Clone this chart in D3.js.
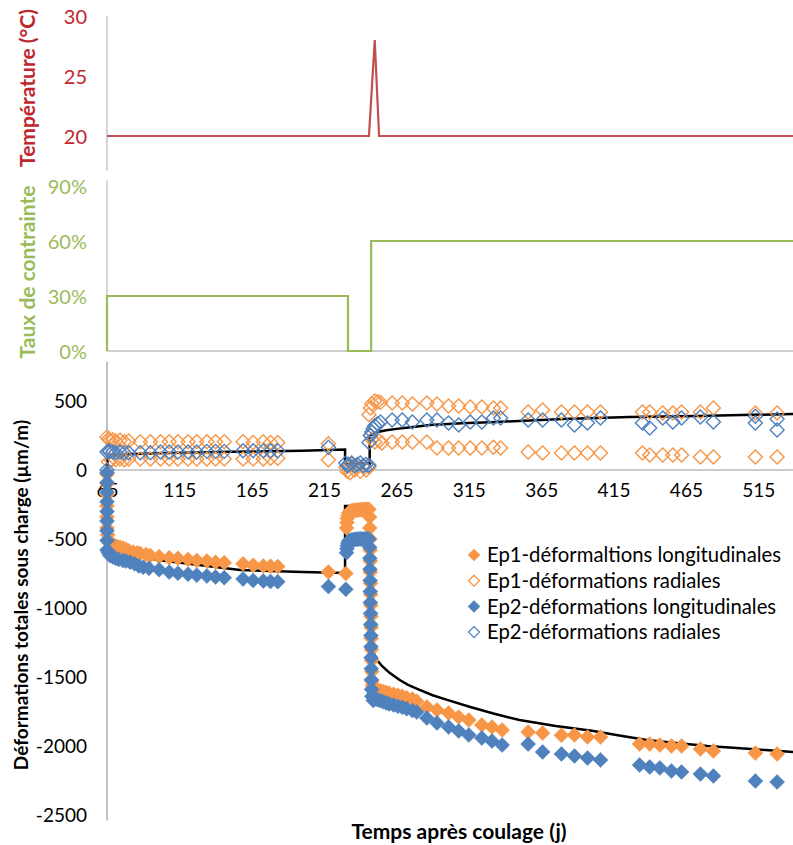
<!DOCTYPE html>
<html><head><meta charset="utf-8">
<script src="https://cdn.jsdelivr.net/npm/d3@7"></script>
<style>body{margin:0;background:#fff}svg{display:block;font-family:Lato,"Open Sans",sans-serif}</style>
</head><body><svg id="c" width="793" height="845"></svg>
<script>
// ---------- DATA ----------
const xTicks = [65,115,165,215,265,315,365,415,465,515];
const tempTicks = [20,25,30];
const stressTicks = [0,0.3,0.6,0.9];
const defTicks = [500,0,-500,-1000,-1500,-2000,-2500];

const temperature = [[65,20],[246,20],[250,28],[253,20],[539,20]];
const stressRate = [[65,0],[65,0.3],[231.5,0.3],[231.5,0],[247.5,0],[247.5,0.6],[539,0.6]];

const modelRadial = [[65,0],[65.5,90],[67,105],[80,115],[100,122],[150,132],[200,140],[229.5,148],[229.5,45],[246.5,45],[246.5,250],[249,262],[252,275],[258,288],[265,298],[275,310],[288,326],[310,338],[334,348],[380,370],[426,384],[473,391],[539,406]];
const modelLong = [[65,0],[65,-480],[66,-520],[70,-560],[80,-600],[100,-652],[130,-690],[157,-725],[200,-740],[229.5,-746],[229.5,-260],[246.5,-260],[246.5,-1150],[248,-1300],[251.6,-1377],[255,-1420],[260,-1468],[267,-1520],[273,-1557],[281,-1594],[290,-1632],[300,-1666],[316,-1717],[332,-1765],[350,-1812],[375,-1855],[400,-1890],[420,-1925],[438,-1957],[460,-1980],[480,-2000],[510,-2022],[539,-2043]];

const ep1Long = [[65,-30],[65,-100],[65,-180],[65,-260],[65,-340],[65,-420],[65.5,-470],[66,-510],[67,-530],[68,-540],[70,-545],[72,-555],[74,-560],[76,-565],[78,-575],[80,-585],[83,-595],[86,-600],[88,-605],[92,-612],[95,-620],[101,-628],[108,-635],[114,-640],[121,-648],[127,-655],[134,-660],[140,-668],[146,-672],[159,-680],[166,-690],[173,-695],[178,-698],[183,-700],[218,-740],[230,-750],
  [230.5,-420],[230.8,-380],[231,-350],[231.5,-330],[232,-310],[233,-300],[234,-296],[235,-294],[236,-292],[237,-291],[238,-290],[239,-289],[240,-288],[241,-287],[242,-286],[243,-286],[244,-285],[245,-285],[246,-285],
  [246.5,-340],[246.6,-420],[246.7,-500],[246.8,-580],[246.9,-660],[247,-740],[247.1,-820],[247.2,-900],[247.3,-980],[247.4,-1060],[247.5,-1140],[247.6,-1220],[247.7,-1300],[247.8,-1380],[247.9,-1460],[248,-1530],
  [248.5,-1560],[249,-1575],[250,-1585],[252,-1595],[254,-1600],[256,-1605],[258,-1612],[260,-1618],[263,-1625],[266,-1632],[269,-1640],[272,-1650],[276,-1660],[279,-1675],
  [286,-1717],[293,-1739],[301,-1761],[308,-1790],[315,-1812],[324,-1848],[331,-1862],[338,-1884],[356,-1899],[366,-1906],[379,-1922],[388,-1920],[397,-1935],[406,-1935],[433,-1986],[440,-1986],[447,-1993],[455,-2000],[462,-2000],[475,-2022],[484,-2036],[513,-2051],[528,-2058]];

const ep1Rad = [[65,240],[66,225],[67,215],[69,220],[71,210],[74,215],[77,205],[80,210],[88,205],[95,205],[102,205],[108,205],[114,205],[121,205],[127,205],[134,205],[140,205],[146,205],[159,205],[166,200],[173,205],[178,200],[183,200],[218,190],
  [66,60],[68,70],[71,75],[74,80],[77,75],[80,80],[88,80],[95,80],[102,80],[108,80],[114,80],[121,80],[127,80],[134,80],[140,80],[146,80],[159,80],[166,80],[173,80],[178,85],[183,85],[218,75],
  [230,20],[231,-10],[232,30],[233,-20],[234,40],[236,0],[238,20],[240,-10],[242,30],[244,0],[246,20],
  [246,400],[247,450],[248,480],[250,500],[252,495],[254,490],[262,486],[269,486],[276,478],[286,486],[293,478],[301,464],[308,464],[316,457],[324,457],[332,449],[337,449],[356,420],[366,435],[379,420],[388,420],[397,420],[406,420],[435,420],[440,420],[449,413],[456,413],[462,420],[475,420],[484,449],[513,413],[528,413],
  [247,250],[248,220],[250,203],[253,210],[255,195],[262,203],[269,203],[276,203],[286,203],[293,160],[301,160],[308,160],[316,160],[324,160],[332,165],[337,160],[356,130],[366,123],[379,123],[388,123],[397,123],[406,123],[435,123],[440,109],[449,109],[456,109],[462,109],[475,94],[484,94],[513,94],[528,94]];

const ep2Long = [[65,-20],[65,-90],[65,-160],[65,-230],[65,-300],[65,-370],[65,-440],[65,-510],[65,-580],[66,-600],[67,-620],[69,-630],[71,-640],[73,-648],[76,-655],[78,-660],[81,-668],[84,-680],[87,-695],[90,-705],[94,-712],[101,-722],[108,-740],[114,-748],[121,-755],[127,-762],[134,-768],[140,-775],[146,-780],[159,-790],[166,-800],[173,-805],[178,-808],[183,-810],[218,-845],[230,-865],
  [230.5,-600],[230.8,-570],[231,-550],[231.5,-530],[232,-515],[233,-510],[234,-507],[235,-505],[236,-503],[237,-502],[238,-501],[239,-500],[240,-500],[241,-500],[242,-500],[243,-500],[244,-500],[245,-500],[246,-500],
  [246.5,-560],[246.6,-640],[246.7,-720],[246.8,-800],[246.9,-880],[247,-960],[247.1,-1040],[247.2,-1120],[247.3,-1200],[247.4,-1280],[247.5,-1360],[247.6,-1440],[247.7,-1520],[247.8,-1590],[248,-1640],
  [249,-1670],[250,-1660],[252,-1665],[254,-1672],[256,-1680],[258,-1688],[260,-1695],[263,-1703],[266,-1712],[269,-1720],[272,-1730],[276,-1742],[279,-1754],
  [286,-1797],[293,-1833],[301,-1862],[308,-1891],[315,-1920],[324,-1942],[331,-1964],[338,-1993],[356,-1986],[366,-2043],[379,-2058],[388,-2072],[397,-2087],[406,-2101],[433,-2138],[440,-2152],[447,-2159],[455,-2181],[462,-2188],[475,-2203],[484,-2217],[513,-2254],[528,-2261]];

const ep2Rad = [[65,0],[65,130],[66,140],[67,135],[69,130],[71,125],[74,130],[77,125],[80,125],[88,125],[95,125],[102,130],[108,130],[114,130],[121,130],[127,130],[134,135],[140,135],[146,135],[159,140],[166,140],[173,140],[178,140],[183,140],[218,165],
  [230,50],[231,30],[232,40],[234,50],[236,30],[238,40],[240,50],[242,30],[244,40],[246,35],
  [246,200],[247,250],[248,275],[249,300],[250,320],[252,335],[254,348],[262,362],[269,362],[276,348],[286,362],[293,362],[301,340],[308,326],[316,348],[324,348],[332,377],[337,377],[356,362],[366,362],[379,362],[388,326],[397,340],[406,377],[435,340],[440,304],[449,377],[456,348],[462,377],[475,384],[484,348],[513,340],[513,390],[528,290],[528,370]];

const legendLabels = ["Ep1-déformaltions longitudinales","Ep1-déformations radiales","Ep2-déformations longitudinales","Ep2-déformations radiales"];

// ---------- STYLE ----------
const ORANGE = "#F79646", BLUE = "#4F81BD", RED = "#C0504D", REDTXT = "#C0272D", GREEN = "#9BBB59", AXIS = "#BFBFBF";
const svg = d3.select("#c");

const x = d3.scaleLinear().domain([65,539]).range([107,793]);
const yT = d3.scaleLinear().domain([20,30]).range([136,16]);
const yS = d3.scaleLinear().domain([0,0.9]).range([351,186]);
const yB = d3.scaleLinear().domain([-2500,500]).range([815,401]);

const fmtInt = d => String(d);
function leftAxis(scale, ticks, fmt, color, size){
  const g = svg.append("g").attr("transform","translate(87,0)")
    .call(d3.axisLeft(scale).tickValues(ticks).tickFormat(fmt).tickSize(0).tickPadding(0));
  g.select(".domain").remove();
  g.selectAll("text").attr("fill",color).style("font-size",size+"px").style("font-family","Lato, sans-serif").attr("dy","0.36em");
}

// Panel 1: temperature
svg.append("line").attr("x1",107).attr("x2",107).attr("y1",yT(30)).attr("y2",yT(17.1)).attr("stroke",AXIS).attr("stroke-width",1.3);
leftAxis(yT, tempTicks, fmtInt, REDTXT, 20);
svg.append("path").datum(temperature).attr("fill","none").attr("stroke",RED).attr("stroke-width",2.2)
  .attr("d", d3.line().x(d=>x(d[0])).y(d=>yT(d[1])));
svg.append("text").attr("transform",`translate(35,${(10+166)/2}) rotate(-90)`).attr("text-anchor","middle")
  .attr("fill",REDTXT).style("font-size","21px").style("font-weight","bold").text("Température (°C)");

// Panel 2: stress rate
svg.append("line").attr("x1",107).attr("x2",107).attr("y1",yS(0.93)).attr("y2",yS(0)).attr("stroke",AXIS).attr("stroke-width",1.3);
svg.append("line").attr("x1",107).attr("x2",793).attr("y1",yS(0)).attr("y2",yS(0)).attr("stroke",AXIS).attr("stroke-width",1.3);
leftAxis(yS, stressTicks, d3.format(".0%"), GREEN, 20);
svg.append("path").datum(stressRate).attr("fill","none").attr("stroke",GREEN).attr("stroke-width",2.2)
  .attr("d", d3.line().x(d=>x(d[0])).y(d=>yS(d[1])));
svg.append("text").attr("transform",`translate(35,${(188+356)/2}) rotate(-90)`).attr("text-anchor","middle")
  .attr("fill",GREEN).style("font-size","21px").style("font-weight","bold").text("Taux de contrainte");

// Panel 3: deformations
svg.append("line").attr("x1",107).attr("x2",107).attr("y1",yB(782)).attr("y2",yB(-2540)).attr("stroke","#999").attr("stroke-width",1.2);
svg.append("line").attr("x1",107).attr("x2",793).attr("y1",yB(0)).attr("y2",yB(0)).attr("stroke","#999").attr("stroke-width",1.2);
leftAxis(yB, defTicks, fmtInt, "#000", 19);
const gx = svg.append("g").attr("transform",`translate(0,${yB(0)})`)
  .call(d3.axisBottom(x).tickValues(xTicks).tickFormat(fmtInt).tickSize(0).tickPadding(20));
gx.select(".domain").remove();
gx.selectAll("text").attr("fill","#000").style("font-size","19px").style("font-family","Lato, sans-serif").attr("dy","0.36em");

const line = d3.line().x(d=>x(d[0])).y(d=>yB(d[1]));
svg.append("path").datum(modelRadial).attr("fill","none").attr("stroke","#000").attr("stroke-width",2.5).attr("d",line);
svg.append("path").datum(modelLong).attr("fill","none").attr("stroke","#000").attr("stroke-width",2.5).attr("d",line);

function diamond(s){ // s = half-diagonal
  return `M0,${-s}L${s},0L0,${s}L${-s},0Z`;
}
function scatter(data, color, filled){
  svg.append("g").selectAll("path").data(data).join("path")
    .attr("transform", d=>`translate(${x(d[0])},${yB(d[1])})`)
    .attr("d", diamond(filled?7.5:7))
    .attr("fill", filled?color:"none")
    .attr("stroke", color).attr("stroke-width", filled?0.5:1.4);
}
scatter(ep1Long, ORANGE, true);
scatter(ep1Rad, ORANGE, false);
scatter(ep2Long, BLUE, true);
scatter(ep2Rad, BLUE, false);

svg.append("text").attr("transform",`translate(28,${(388+802)/2}) rotate(-90)`).attr("text-anchor","middle")
  .attr("fill","#000").style("font-size","19px").style("font-weight","bold").text("Déformations totales sous charge (µm/m)");
svg.append("text").attr("x",459).attr("y",839).attr("text-anchor","middle")
  .attr("fill","#000").style("font-size","21px").style("font-weight","bold").text("Temps après coulage (j)");

// Legend
const legColors = [ORANGE, ORANGE, BLUE, BLUE], legFilled = [true,false,true,false];
const leg = svg.append("g");
legendLabels.forEach((t,i)=>{
  const cy = 555 + i*25.7;
  leg.append("path").attr("transform",`translate(474,${cy})`).attr("d",diamond(legFilled[i]?6:5.5))
    .attr("fill",legFilled[i]?legColors[i]:"none").attr("stroke",legColors[i]).attr("stroke-width",legFilled[i]?0.5:1.3);
  leg.append("text").attr("x",487).attr("y",cy).attr("dy","0.36em").attr("fill","#000")
    .style("font-size","20.3px").style("font-family","Lato, sans-serif").text(t);
});
</script></body></html>
